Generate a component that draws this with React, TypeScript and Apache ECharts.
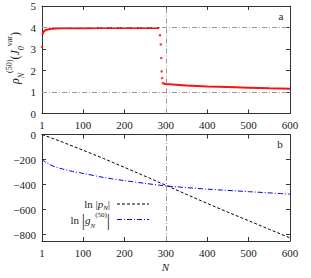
import React, { useEffect, useRef } from 'react';
import * as echarts from 'echarts';

// ---- data ----
const xTickLabels = [1, 100, 200, 300, 400, 500, 600];
const xTickMarks = [100, 200, 300, 400, 500];
const topYTicks = [0, 1, 2, 3, 4, 5];
const bottomYTicks = [0, -200, -400, -600, -800];

const rhoStartN = [1];
const rhoStartV = [3.1];
const rhoPlateauN = [2, 3, 5, 8, 12, 17, 25, 35, 50, 75, 100, 150, 200, 250, 284];
const rhoPlateauV = [3.66, 3.72, 3.8, 3.86, 3.9, 3.92, 3.94, 3.95, 3.96, 3.97, 3.97, 3.98, 3.98, 3.98, 3.98];
const rhoDropN = [286, 288, 289, 290, 291, 293];
const rhoDropV = [3.64, 3.21, 2.58, 1.96, 1.65, 1.41];
const rhoTailN = [294, 300, 350, 400, 450, 500, 550, 600];
const rhoTailV = [1.38, 1.37, 1.3, 1.26, 1.23, 1.2, 1.17, 1.15];
const refLevels = [4, 1];
const refN = 300;

const pN = [1, 50, 100, 150, 200, 250, 300, 350, 400, 450, 500, 550, 600];
const pV = [0, -60, -125, -192, -262, -333, -405, -478, -550, -620, -688, -757, -825];
const gN = [1, 5, 10, 20, 30, 50, 75, 100, 150, 200, 250, 300, 400, 500, 600];
const gV = [-196, -210, -222, -240, -255, -275, -295, -310, -343, -368, -390, -410, -436, -456, -476];

const zip = (a: number[], b: number[]) => a.map((v, i) => [v, b[i]]);

const FONT = 'Liberation Serif';
const AXIS_COLOR = '#333';
const LABEL_COLOR = '#222';
const REF_STYLE = { color: '#999', type: [5, 2, 1, 2] as any, width: 1 };

const fmt = (v: number) => (v < 0 ? '\u2212' + Math.abs(v) : String(v));

function xAxes(grid: number) {
  const base = {
    type: 'value',
    gridIndex: grid,
    min: 1,
    max: 600,
    splitLine: { show: false },
    axisLine: { show: true, onZero: false, lineStyle: { color: AXIS_COLOR, width: 1 } },
    axisTick: { show: true, inside: true, length: 4, customValues: xTickMarks, lineStyle: { color: AXIS_COLOR } },
  };
  return [
    {
      ...base,
      position: 'bottom',
      axisLabel: {
        customValues: xTickLabels,
        margin: 6,
        color: LABEL_COLOR,
        fontFamily: FONT,
        fontSize: 11,
        showMinLabel: true,
        showMaxLabel: true,
        hideOverlap: false,
      },
    },
    { ...base, position: 'top', axisLabel: { show: false } },
  ];
}

function yAxes(grid: number, min: number, max: number, ticks: number[]) {
  const inner = ticks.filter((t) => t !== min && t !== max);
  const base = {
    type: 'value',
    gridIndex: grid,
    min,
    max,
    splitLine: { show: false },
    axisLine: { show: true, onZero: false, lineStyle: { color: AXIS_COLOR, width: 1 } },
    axisTick: { show: true, inside: true, length: 4, customValues: inner, lineStyle: { color: AXIS_COLOR } },
  };
  return [
    {
      ...base,
      position: 'left',
      axisLabel: {
        customValues: ticks,
        margin: 6,
        color: LABEL_COLOR,
        fontFamily: FONT,
        fontSize: 11,
        formatter: fmt,
        showMinLabel: true,
        showMaxLabel: true,
        hideOverlap: false,
      },
    },
    { ...base, position: 'right', axisLabel: { show: false } },
  ];
}

export default function App() {
  const ref = useRef<HTMLDivElement>(null);

  useEffect(() => {
    if (!ref.current) return;
    const chart = echarts.init(ref.current, null, { renderer: 'svg' });

    const red = '#ff1010';
    const option: any = {
      animation: false,
      backgroundColor: '#fff',
      textStyle: { fontFamily: FONT },
      grid: [
        { left: 42, top: 6, width: 248, height: 107.5 },
        { left: 42, top: 134.5, width: 248, height: 106.5 },
      ],
      xAxis: [...xAxes(0), ...xAxes(1)],
      yAxis: [...yAxes(0, 0, 5, topYTicks), ...yAxes(1, -850, 0, bottomYTicks)],
      series: [
        {
          type: 'line',
          xAxisIndex: 0,
          yAxisIndex: 0,
          data: [],
          z: 1,
          markLine: {
            silent: true,
            symbol: 'none',
            label: { show: false },
            lineStyle: REF_STYLE,
            data: [...refLevels.map((v) => ({ yAxis: v })), { xAxis: refN }],
          },
        },
        {
          type: 'line',
          xAxisIndex: 2,
          yAxisIndex: 2,
          data: [],
          z: 1,
          markLine: {
            silent: true,
            symbol: 'none',
            label: { show: false },
            lineStyle: REF_STYLE,
            data: [{ xAxis: refN }],
          },
        },
        {
          type: 'line',
          xAxisIndex: 0,
          yAxisIndex: 0,
          z: 3,
          showSymbol: false,
          data: zip(rhoPlateauN, rhoPlateauV),
          lineStyle: { color: red, width: 2 },
        },
        {
          type: 'line',
          xAxisIndex: 0,
          yAxisIndex: 0,
          z: 3,
          showSymbol: false,
          data: zip(rhoTailN, rhoTailV),
          lineStyle: { color: red, width: 2 },
        },
        {
          type: 'scatter',
          xAxisIndex: 0,
          yAxisIndex: 0,
          z: 3,
          symbolSize: 2.6,
          itemStyle: { color: red },
          data: [...zip(rhoStartN, rhoStartV), ...zip(rhoDropN, rhoDropV)],
        },
        {
          type: 'line',
          xAxisIndex: 2,
          yAxisIndex: 2,
          z: 3,
          showSymbol: false,
          data: zip(pN, pV),
          lineStyle: { color: '#000', width: 1, type: [3, 2] },
        },
        {
          type: 'line',
          xAxisIndex: 2,
          yAxisIndex: 2,
          z: 3,
          smooth: 0.3,
          showSymbol: false,
          data: zip(gN, gV),
          lineStyle: { color: '#0000ff', width: 1, type: [5, 2, 1, 2] },
        },
      ],
      graphic: [
        {
          type: 'text',
          x: 15,
          y: 58,
          rotation: Math.PI / 2,
          style: {
            text: '{m|\u03c1}{s|N}{p|(50)}{r|(}{i|J}{s|0}{p|var}{r|)}',
            textAlign: 'center',
            textVerticalAlign: 'middle',
            fill: LABEL_COLOR,
            rich: {
              m: { fontFamily: FONT, fontSize: 12, fontStyle: 'italic', lineHeight: 20, verticalAlign: 'middle', fill: LABEL_COLOR },
              r: { fontFamily: FONT, fontSize: 12, lineHeight: 20, verticalAlign: 'middle', fill: LABEL_COLOR },
              i: { fontFamily: FONT, fontSize: 12, fontStyle: 'italic', lineHeight: 20, verticalAlign: 'middle', fill: LABEL_COLOR },
              s: { fontFamily: FONT, fontSize: 8, fontStyle: 'italic', lineHeight: 8, verticalAlign: 'bottom', fill: LABEL_COLOR },
              p: { fontFamily: FONT, fontSize: 8, lineHeight: 8, verticalAlign: 'top', fill: LABEL_COLOR },
            },
          },
        },
        {
          type: 'text',
          x: 281,
          y: 16,
          style: { text: 'a', font: `11px ${FONT}`, fill: LABEL_COLOR, textAlign: 'center', textVerticalAlign: 'middle' },
        },
        {
          type: 'text',
          x: 280,
          y: 144,
          style: { text: 'b', font: `11px ${FONT}`, fill: LABEL_COLOR, textAlign: 'center', textVerticalAlign: 'middle' },
        },
        {
          type: 'text',
          x: 165.5,
          y: 267,
          style: { text: 'N', font: `italic 11px ${FONT}`, fill: LABEL_COLOR, textAlign: 'center', textVerticalAlign: 'middle' },
        },
        {
          type: 'text',
          x: 110,
          y: 204,
          style: {
            text: '{r|ln |}{i|p}{s|N}{r||}',
            textAlign: 'right',
            textVerticalAlign: 'middle',
            rich: {
              r: { fontFamily: FONT, fontSize: 11, lineHeight: 14, fill: LABEL_COLOR },
              i: { fontFamily: FONT, fontSize: 11, fontStyle: 'italic', lineHeight: 14, fill: LABEL_COLOR },
              s: { fontFamily: FONT, fontSize: 7, fontStyle: 'italic', lineHeight: 7, verticalAlign: 'bottom', fill: LABEL_COLOR },
            },
          },
        },
        {
          type: 'line',
          shape: { x1: 117, y1: 204, x2: 149, y2: 204 },
          style: { stroke: '#000', lineWidth: 1, lineDash: [3, 2] },
        },
        {
          type: 'text',
          x: 110,
          y: 220,
          style: {
            text: '{r|ln }{b||}{i|g}{s|N}{p|(50)}{b||}',
            textAlign: 'right',
            textVerticalAlign: 'middle',
            rich: {
              r: { fontFamily: FONT, fontSize: 11, lineHeight: 18, fill: LABEL_COLOR },
              b: { fontFamily: FONT, fontSize: 16, lineHeight: 18, fill: LABEL_COLOR },
              i: { fontFamily: FONT, fontSize: 11, fontStyle: 'italic', lineHeight: 18, fill: LABEL_COLOR },
              s: { fontFamily: FONT, fontSize: 7, fontStyle: 'italic', lineHeight: 7, verticalAlign: 'bottom', fill: LABEL_COLOR },
              p: { fontFamily: FONT, fontSize: 7, lineHeight: 7, verticalAlign: 'top', fill: LABEL_COLOR },
            },
          },
        },
        {
          type: 'line',
          shape: { x1: 117, y1: 219.5, x2: 149, y2: 219.5 },
          style: { stroke: '#0000ff', lineWidth: 1, lineDash: [5, 2, 1, 2] },
        },
      ],
    };

    chart.setOption(option);
    return () => chart.dispose();
  }, []);

  return (
    <div
      ref={ref}
      style={{ position: 'fixed', left: 0, top: 0, width: 311, height: 278, background: '#fff' }}
    />
  );
}
